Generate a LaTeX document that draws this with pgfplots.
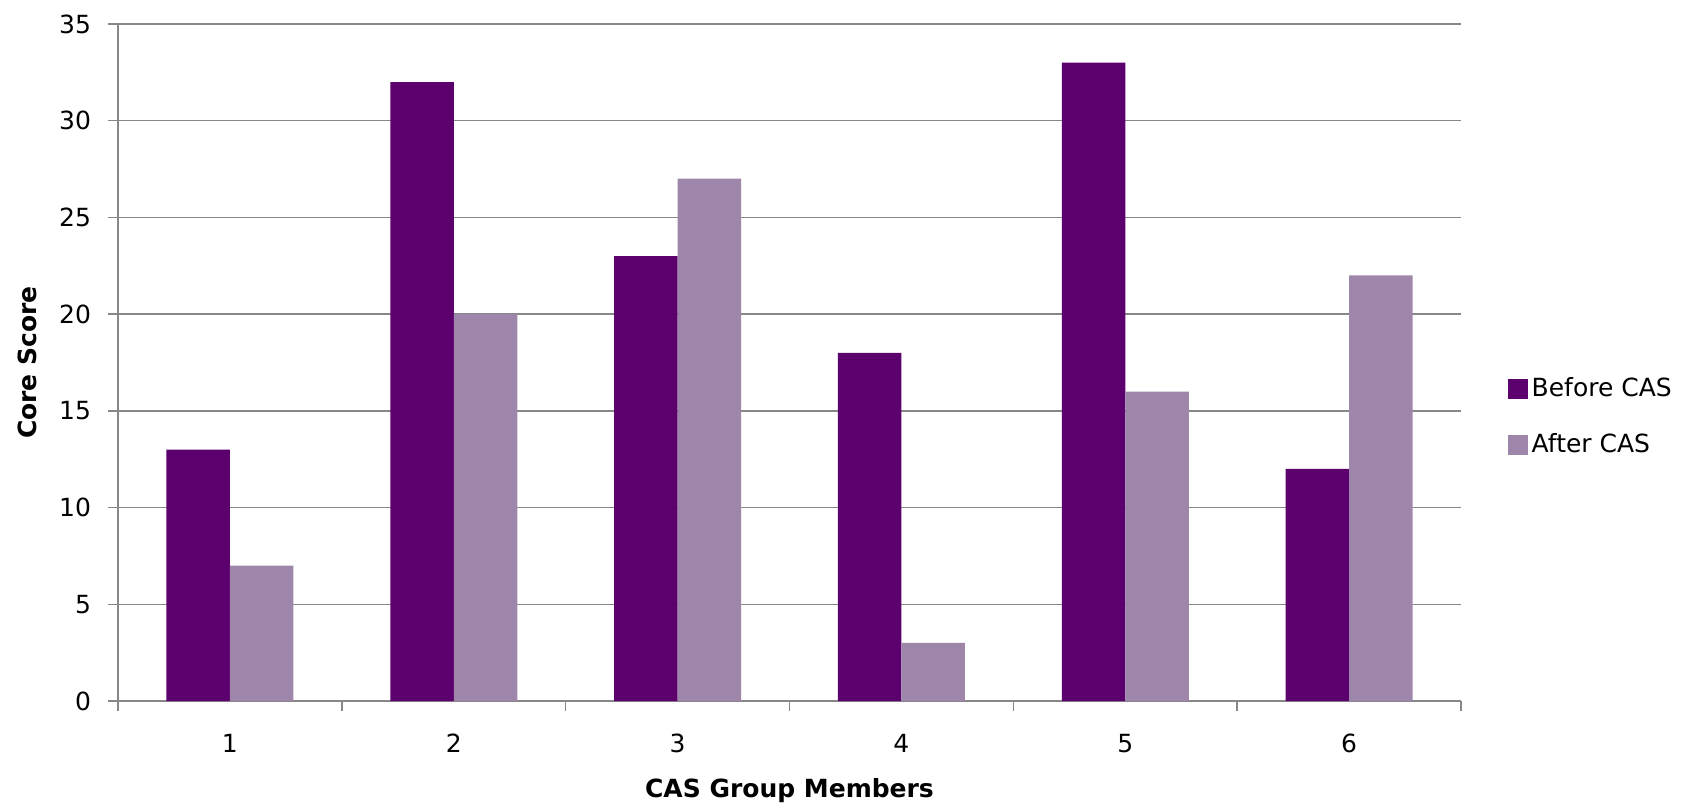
\documentclass[border=0pt]{standalone}
\usepackage{pgfplots}
\pgfplotsset{compat=1.18}
\usepackage{fontspec}
\setmainfont{DejaVu Sans}
\definecolor{before}{RGB}{92,0,110}
\definecolor{after}{RGB}{158,134,170}
\definecolor{gridgray}{RGB}{135,135,135}
\begin{document}
\begin{tikzpicture}
\begin{axis}[
  scale only axis,
  width=671.5pt, height=338.5pt,
  xmin=0.5, xmax=6.5, ymin=0, ymax=35,
  ybar=0pt, bar width=31.75pt,
  xtick={0.5,1.5,2.5,3.5,4.5,5.5,6.5},
  xticklabels={},
  extra x ticks={1,2,3,4,5,6},
  extra x tick labels={1,2,3,4,5,6},
  extra x tick style={major tick length=0pt, grid=none,
    xticklabel style={yshift=-13pt}},
  ytick={0,5,...,35},
  tick style={draw=gridgray, line width=0.75pt},
  major tick length=5pt,
  tick align=outside,
  ymajorgrids,
  grid style={draw=gridgray, line width=0.75pt},
  axis x line*=bottom,
  axis y line*=left,
  axis line style={draw=gridgray, line width=0.75pt, -},
  /pgf/number format/assume math mode=true,
  tick label style={font=\fontsize{12.5}{14}\selectfont, text=black},
  yticklabel style={xshift=-5pt},
  xlabel={\bfseries CAS Group Members},
  ylabel={\bfseries Core Score},
  label style={font=\fontsize{12.5}{14}\selectfont},
  xlabel style={at={(0.5,0)}, anchor=center, yshift=-45pt},
  ylabel style={at={(0,0.5)}, anchor=center, rotate=0, yshift=45.5pt},
  legend style={at={(1.03,0.42)}, anchor=west, draw=none, fill=none,
    font=\fontsize{12.5}{14}\selectfont, row sep=13pt},
  legend image code/.code={\fill[#1] (0pt,-5pt) rectangle (10pt,5pt);},
  legend cell align=left,
]
\addplot[fill=before, draw=none] coordinates {(1,13) (2,32) (3,23) (4,18) (5,33) (6,12)};
\addplot[fill=after, draw=none] coordinates {(1,7) (2,20) (3,27) (4,3) (5,16) (6,22)};
\legend{Before CAS, After CAS}
\end{axis}
\path[use as bounding box] ([shift={(-59pt,-53.5pt)}]current axis.south west) rectangle ([shift={(113.5pt,12pt)}]current axis.north east);
\end{tikzpicture}
\end{document}
